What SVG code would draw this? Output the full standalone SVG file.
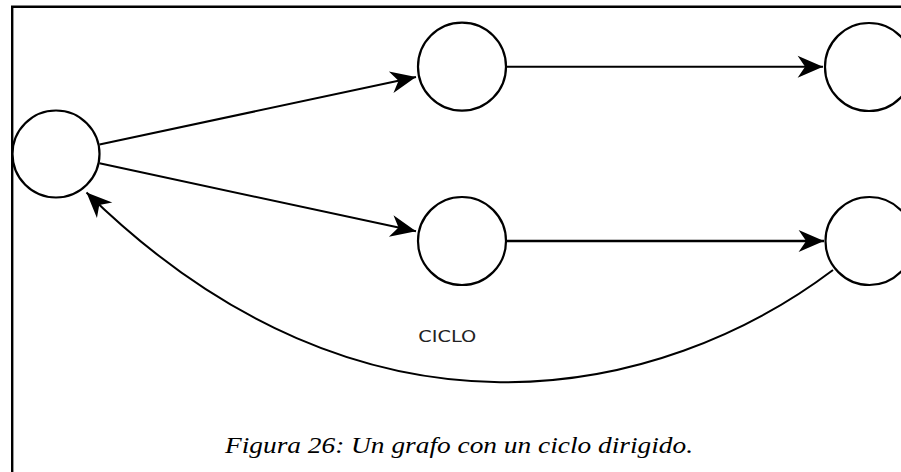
<svg xmlns="http://www.w3.org/2000/svg" width="901" height="472" viewBox="0 0 901 472">
<style>
.node{fill:#fff;stroke:#000;stroke-width:2.2}
.edge{fill:none;stroke:#000;stroke-width:2}
.frame{fill:none;stroke:#000;stroke-width:2.4}
.lbl{font-family:"DejaVu Sans",sans-serif;font-size:16.5px;fill:#222}
.cap{font-family:"Liberation Serif",serif;font-style:italic;font-size:23px;fill:#000}
</style>
<defs>
<marker id="arr" markerUnits="userSpaceOnUse" markerWidth="30" markerHeight="30" viewBox="-24 -12 26 24" refX="0" refY="0" orient="auto">
<path d="M0,0 L-22,-9.5 L-15.5,0 L-22,9.5 Z" fill="#000"/>
</marker>
</defs>
<path class="frame" d="M12.2,472 V6.8 H901"/>
<g id="connectors">
<path class="edge" d="M99.5,144.5 L416,77" marker-end="url(#arr)"/>
<path class="edge" d="M99.5,163.3 L416,231.3" marker-end="url(#arr)"/>
<path class="edge" d="M506,66.7 L823,66.7" marker-end="url(#arr)"/>
<path class="edge" style="stroke-width:2.6" d="M506,241 L824,241" marker-end="url(#arr)"/>
<path class="edge" d="M833,270 C662,399 365,466 86.5,192.5" marker-end="url(#arr)"/>
</g>
<g id="n0"><circle class="node" cx="56" cy="154" r="43.5"/></g>
<g id="n1"><circle class="node" cx="462" cy="66.7" r="44"/></g>
<g id="n2"><circle class="node" cx="869" cy="67" r="44"/></g>
<g id="n3"><circle class="node" cx="462" cy="241" r="44"/></g>
<g id="n4"><circle class="node" cx="869.5" cy="241" r="44"/></g>
<text class="lbl" x="418.3" y="341.7" textLength="58" lengthAdjust="spacingAndGlyphs">CICLO</text>
<text class="cap" x="225" y="452.7" textLength="468" lengthAdjust="spacingAndGlyphs">Figura 26: Un grafo con un ciclo dirigido.</text>
</svg>
